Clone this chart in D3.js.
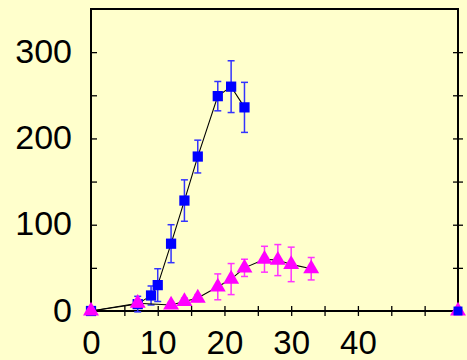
<!DOCTYPE html>
<html>
<head>
<meta charset="utf-8">
<script src="https://cdn.jsdelivr.net/npm/d3@7"></script>
<style>
  body { margin: 0; background: #ffffcc; }
  svg { display: block; }
  .tick text { font-family: "Liberation Sans", Arial, sans-serif; fill: #000; }
</style>
</head>
<body>
<div id="chart"></div>
<script>
var margin = { top: 9, right: 9, bottom: 49, left: 91 };
var width = 467 - margin.left - margin.right,
    height = 360 - margin.top - margin.bottom;

// blue squares
var blueX = [0, 7, 9, 10, 12, 14, 16, 19, 21, 23];
var blueY = [0, 8, 18, 30, 78, 128, 179, 249, 260, 236];
var blueErr = [0, 9, 11, 19, 22, 24, 19, 17, 30, 29];

// magenta triangles
var magX = [0, 7, 12, 14, 16, 19, 21, 23, 26, 28, 30, 33];
var magY = [0, 9, 7, 11, 15, 28, 37, 50, 60, 59, 54, 49];
var magErr = [0, 4, 3, 4, 4, 15, 18, 10, 15, 18, 20, 13];

// stray points on the right edge
var edgeX = [55];
var edgeY = [0];

var xTicks = [0, 5, 10, 15, 20, 25, 30, 35, 40, 45, 50];
var xLabels = [0, 10, 20, 30, 40];
var yTicks = [0, 50, 100, 150, 200, 250, 300];
var yLabels = [0, 100, 200, 300];

var svg = d3.select("#chart").append("svg")
    .attr("width", width + margin.left + margin.right)
    .attr("height", height + margin.top + margin.bottom)
  .append("g")
    .attr("transform", "translate(" + margin.left + "," + margin.top + ")");

var x = d3.scaleLinear().domain([0, 55]).range([0, width]);
var y = d3.scaleLinear().domain([0, 350]).range([height, 0]);

// axes
var xAxis = d3.axisBottom(x).tickValues(xTicks).tickSize(5).tickPadding(15)
    .tickFormat(function(d) { return xLabels.indexOf(d) >= 0 ? d : ""; });
var gx = svg.append("g").attr("transform", "translate(0," + height + ")").call(xAxis);
gx.selectAll(".tick line").attr("y1", -5).attr("stroke-width", 1.3);
gx.selectAll(".tick text").style("font-size", "33px").attr("dy", "0.71em");

var yAxis = d3.axisLeft(y).tickValues(yTicks).tickSize(-6).tickPadding(19)
    .tickFormat(function(d) { return yLabels.indexOf(d) >= 0 ? d : ""; });
var gy = svg.append("g").call(yAxis);
gy.selectAll(".tick text").style("font-size", "34px").attr("dy", "0.3em");
gy.selectAll(".tick line").attr("stroke-width", 1.3);

var gr = svg.append("g").attr("transform", "translate(" + width + ",0)")
    .call(d3.axisRight(y).tickValues(yTicks).tickSize(5).tickFormat(""));
gr.selectAll(".tick line").attr("x1", -5).attr("stroke-width", 1.3);

svg.selectAll(".domain").remove();
svg.append("rect")
    .attr("width", width).attr("height", height)
    .attr("fill", "none").attr("stroke", "#000").attr("stroke-width", 2);

function drawSeries(xs, ys, errs, color, barColor, shape, size) {
    var pts = xs.map(function(d, i) { return { x: d, y: ys[i], e: errs[i] }; });
    var line = d3.line().x(function(d) { return x(d.x); }).y(function(d) { return y(d.y); });
    svg.append("path").datum(pts)
        .attr("d", line).attr("fill", "none").attr("stroke", "#000").attr("stroke-width", 1.1);

    var eb = svg.append("g").selectAll("g").data(pts.filter(function(d) { return d.e > 0; }))
        .enter().append("g").attr("stroke", barColor).attr("stroke-width", 1.5);
    eb.append("line")
        .attr("x1", function(d) { return x(d.x); }).attr("x2", function(d) { return x(d.x); })
        .attr("y1", function(d) { return y(d.y - d.e); }).attr("y2", function(d) { return y(d.y + d.e); });
    [1, -1].forEach(function(s) {
        eb.append("line")
            .attr("x1", function(d) { return x(d.x) - 3.5; }).attr("x2", function(d) { return x(d.x) + 3.5; })
            .attr("y1", function(d) { return y(d.y + s * d.e); }).attr("y2", function(d) { return y(d.y + s * d.e); });
    });

    svg.append("g").selectAll("path").data(pts).enter().append("path")
        .attr("d", d3.symbol().type(shape).size(size))
        .attr("transform", function(d) { return "translate(" + x(d.x) + "," + y(d.y) + ")"; })
        .attr("fill", color);
}

drawSeries(blueX, blueY, blueErr, "#0000ff", "#3333ff", d3.symbolSquare, 105);
drawSeries(magX, magY, magErr, "#ff00ff", "#ff33ff", d3.symbolTriangle, 110);

// edge points
svg.append("g").selectAll("path").data(edgeX).enter().append("path")
    .attr("d", d3.symbol().type(d3.symbolTriangle).size(110))
    .attr("transform", function(d, i) { return "translate(" + x(d) + "," + y(edgeY[i]) + ")"; })
    .attr("fill", "#ff00ff");
svg.append("g").selectAll("path").data(edgeX).enter().append("path")
    .attr("d", d3.symbol().type(d3.symbolSquare).size(80))
    .attr("transform", function(d, i) { return "translate(" + x(d) + "," + y(edgeY[i]) + ")"; })
    .attr("fill", "#0000ff");
</script>
</body>
</html>
